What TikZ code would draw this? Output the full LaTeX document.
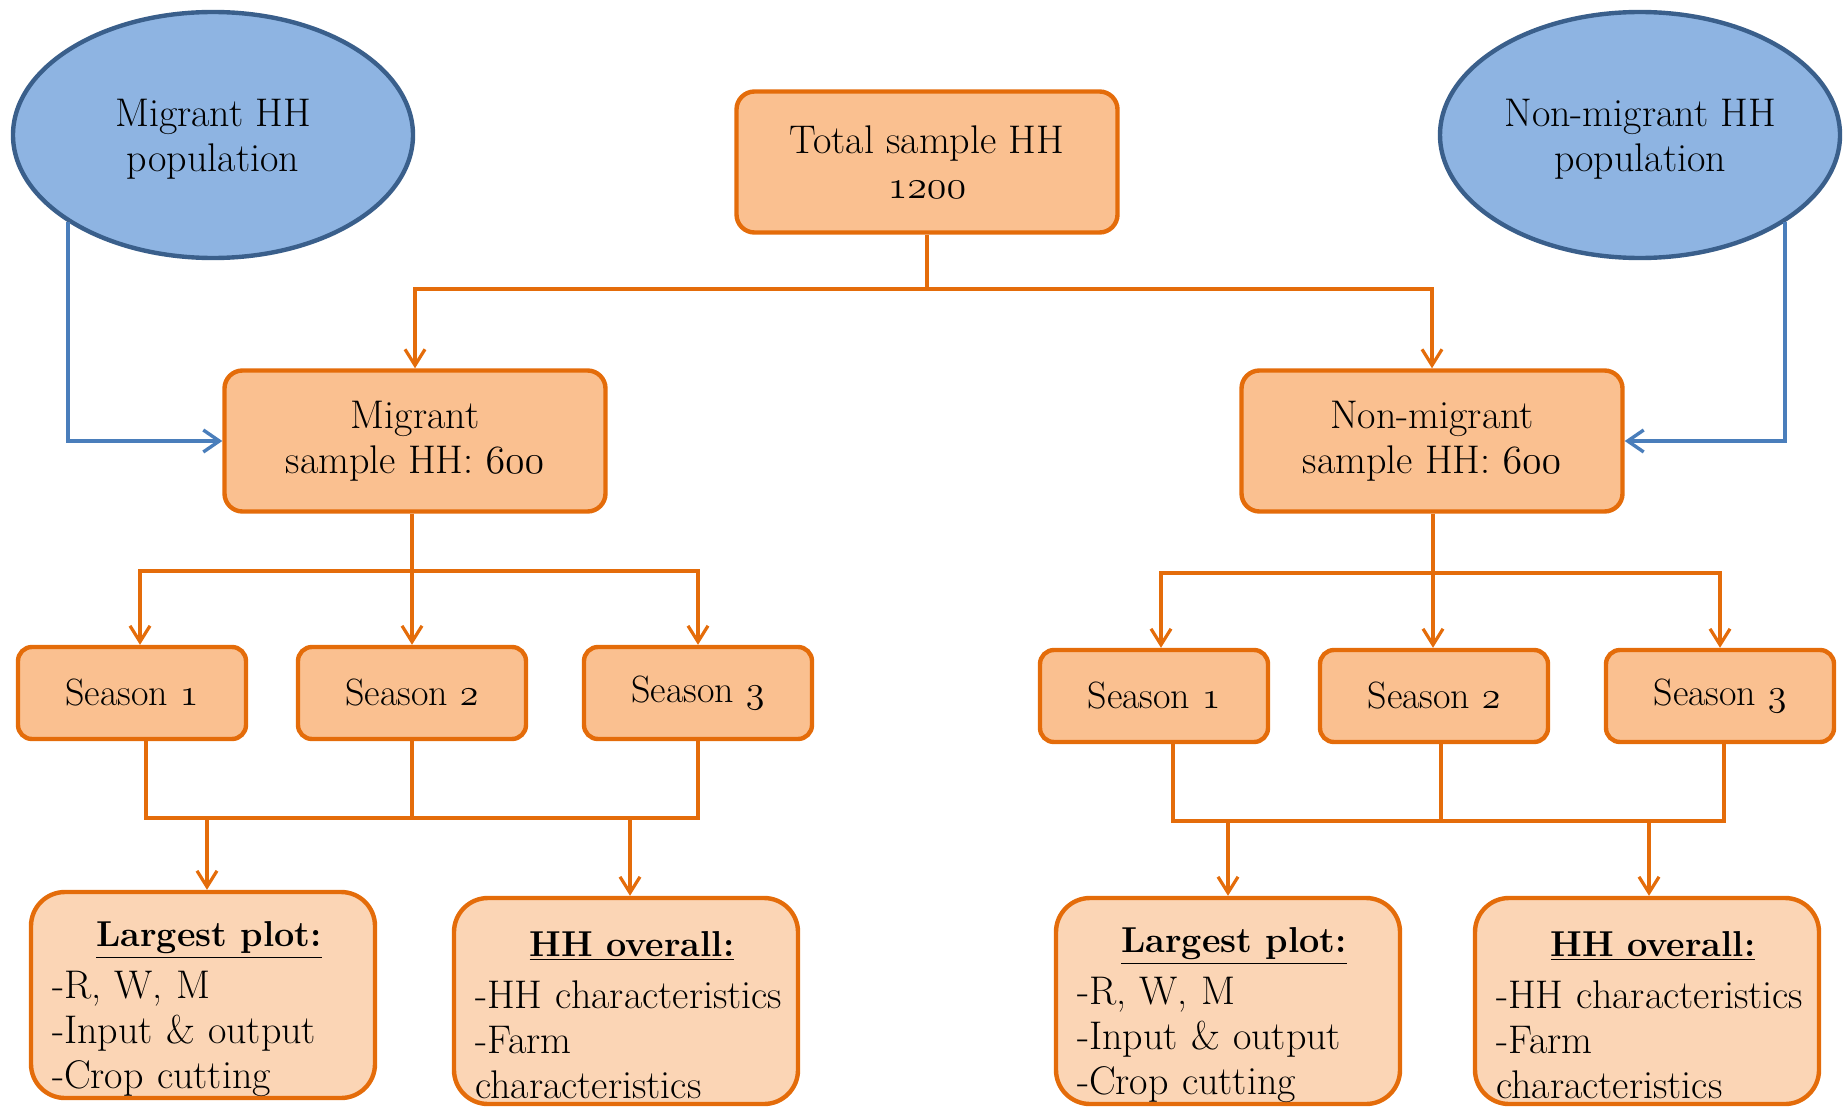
\RequirePackage{fix-cm}
\documentclass[tikz,border=0pt]{standalone}
\usetikzlibrary{shapes.geometric,arrows.meta}
\newcommand\osf[1]{{\fontencoding{OML}\fontfamily{cmm}\fontseries{m}\fontshape{it}\selectfont #1}}
\newcommand\boxtitle[1]{\makebox[\linewidth]{\hspace{6pt}\rule{0pt}{27pt}\fontsize{18}{22.5}\selectfont\underline{\textbf{#1}}}}
\newcommand\ind{\hspace*{3.5pt}}
\definecolor{org}{RGB}{228,108,10}
\definecolor{ofill}{RGB}{250,192,144}
\definecolor{lfill}{RGB}{251,213,181}
\definecolor{efill}{RGB}{142,180,226}
\definecolor{edark}{RGB}{58,95,139}
\definecolor{bconn}{RGB}{74,126,187}
\begin{document}
\begin{tikzpicture}[x=0.5pt,y=-0.5pt,
  font=\fontsize{20}{22.5}\selectfont,
  conn/.style={draw=org, line width=1.6pt},
  arr/.style={conn, -{Straight Barb[length=8pt,width=10pt]}},
  barr/.style={draw=bconn, line width=1.7pt, -{Straight Barb[length=8pt,width=11pt]}},
  ell/.style={ellipse, draw=edark, fill=efill, line width=2.2pt, minimum width=200pt, minimum height=123pt, inner sep=0pt, align=center},
  topbox/.style={rectangle, rounded corners=9pt, draw=org, fill=ofill, line width=2.2pt, minimum width=190.5pt, minimum height=70.5pt, align=center},
  seasonbox/.style={rectangle, rounded corners=7pt, draw=org, fill=ofill, line width=2.2pt, minimum width=114pt, minimum height=46pt, font=\fontsize{19}{22.5}\selectfont},
  infobox/.style={rectangle, rounded corners=17pt, draw=org, fill=lfill, line width=2.2pt, minimum width=172pt, minimum height=103pt, text width=158pt, inner xsep=7pt, inner ysep=0pt, align=left}]
\useasboundingbox (0,0) rectangle (1845,1107);

% population ellipses
\node[ell] (ellL) at (213,135) {\rule{0pt}{17.5pt}Migrant HH\\population};
\node[ell] (ellR) at (1640,135) {\rule{0pt}{17.5pt}Non-migrant HH\\population};

% top boxes
\node[topbox] (tot) at (927,162) {Total sample HH\\\osf{1200}};
\node[topbox] (mig) at (415,441) {Migrant\\sample HH: \osf{600}};
\node[topbox] (nmig) at (1432,441) {Non-migrant\\sample HH: \osf{600}};

% seasons
\node[seasonbox] (ls1) at (132,693) {Season \osf{1}};
\node[seasonbox] (ls2) at (412,693) {Season \osf{2}};
\node[seasonbox] (ls3) at (698,693) {Season \osf{3}};
\node[seasonbox] (rs1) at (1154,696) {Season \osf{1}};
\node[seasonbox] (rs2) at (1434,696) {Season \osf{2}};
\node[seasonbox] (rs3) at (1720,696) {Season \osf{3}};

% info boxes
\node[infobox] (ll) at (203,995) {\boxtitle{Largest plot:}\\[3.5pt]\ind-R, W, M\\\ind-Input~\&~output\\\ind-Crop~cutting};
\node[infobox] (lh) at (626,1001) {\boxtitle{HH overall:}\\[3.5pt]\ind-HH~characteristics\\\ind-Farm\\\ind characteristics};
\node[infobox] (rl) at (1228,1001) {\boxtitle{Largest plot:}\\[3.5pt]\ind-R, W, M\\\ind-Input~\&~output\\\ind-Crop~cutting};
\node[infobox] (rh) at (1647,1001) {\boxtitle{HH overall:}\\[3.5pt]\ind-HH~characteristics\\\ind-Farm\\\ind characteristics};

% blue connectors
\draw[barr] (ellL.211) |- (mig);
\draw[barr] (ellR.329) |- (nmig);

% top bus
\coordinate (tb) at (927,289);
\draw[conn] (tot) -- (tb);
\draw[arr] (tb) -| (mig);
\draw[arr] (tb) -| (nmig);

% migrant -> seasons
\coordinate (mb) at (412,571);
\draw[conn] (mig.south -| mb) -- (mb);
\draw[arr] (mb) -| ([xshift=4pt]ls1.north);
\draw[arr] (mb) -- (ls2);
\draw[arr] (mb) -| (ls3);

% non-migrant -> seasons
\coordinate (nb) at (1433,573);
\draw[conn] (nmig.south -| nb) -- (nb);
\draw[arr] (nb) -| ([xshift=3.5pt]rs1.north);
\draw[arr] (nb) -- (nb |- rs2.north);
\draw[arr] (nb) -| (rs3);

% left seasons -> info
\coordinate (lb) at (412,818);
\draw[conn] ([xshift=7pt]ls1.south) |- (ls3.south |- lb) -- (ls3.south);
\draw[conn] (ls2) -- (ls2 |- lb);
\draw[arr] ([xshift=2pt]ll.north |- lb) -- ([xshift=2pt]ll.north);
\draw[arr] ([xshift=2pt]lh.north |- lb) -- ([xshift=2pt]lh.north);

% right seasons -> info
\coordinate (rb) at (1441,821);
\draw[conn] ([xshift=9.5pt]rs1.south) |- ([xshift=2pt]rs3.south |- rb) -- ([xshift=2pt]rs3.south);
\draw[conn] ([xshift=3.5pt]rs2.south) -- ([xshift=3.5pt]rs2.south |- rb);
\draw[arr] (rl.north |- rb) -- (rl);
\draw[arr] ([xshift=1pt]rh.north |- rb) -- ([xshift=1pt]rh.north);
\end{tikzpicture}
\end{document}
